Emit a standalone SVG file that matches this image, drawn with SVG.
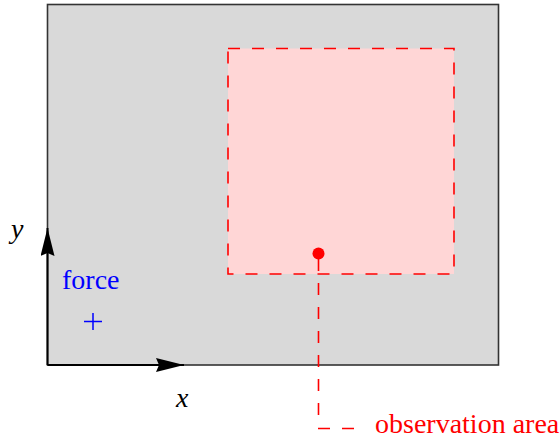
<svg xmlns="http://www.w3.org/2000/svg" width="560" height="441" viewBox="0 0 560 441">
<style>
.lbl{font-family:"Liberation Serif","Times New Roman",serif;font-size:28px}
.dash{fill:none;stroke:#ff0000;stroke-width:1.6;stroke-dasharray:12 12}
.axis{stroke:#000;stroke-width:2;fill:none}
</style>
<defs>
<marker id="arr" viewBox="0 0 28 14" refX="28" refY="7" markerWidth="28" markerHeight="14" markerUnits="userSpaceOnUse" orient="auto">
<path d="M0,0 L28,7 L0,14 L3,7 Z" fill="#000"/>
</marker>
</defs>
<g id="domain">
<rect x="47.5" y="4.5" width="451" height="360.5" fill="#d9d9d9" stroke="#333" stroke-width="1.6"/>
</g>
<g id="observation">
<rect x="228" y="48.5" width="226" height="225.5" fill="#ffd6d6" stroke="none"/>
<rect x="228" y="48.5" width="226" height="225.5" class="dash"/>
</g>
<g id="connectors">
<line class="axis" x1="47.5" y1="365" x2="47.5" y2="228" marker-end="url(#arr)"/>
<line class="axis" x1="47.5" y1="365" x2="184" y2="365" marker-end="url(#arr)"/>
<path class="dash" d="M318.5,415 V253"/>
<path class="dash" d="M318,428.5 H356"/>
</g>
<g id="point">
<circle cx="318.5" cy="253.5" r="6" fill="#ff0000"/>
</g>
<g id="force">
<text class="lbl" x="62" y="289" fill="#0000ff">force</text>
<path d="M84,321.5 H102 M93,313 V330" stroke="#0000ff" stroke-width="1.5" fill="none"/>
</g>
<g id="labels">
<text class="lbl" x="11" y="238" font-style="italic">y</text>
<text class="lbl" x="176" y="407" font-style="italic">x</text>
<text class="lbl" x="375" y="433" fill="#ff0000">observation area</text>
</g>
</svg>
